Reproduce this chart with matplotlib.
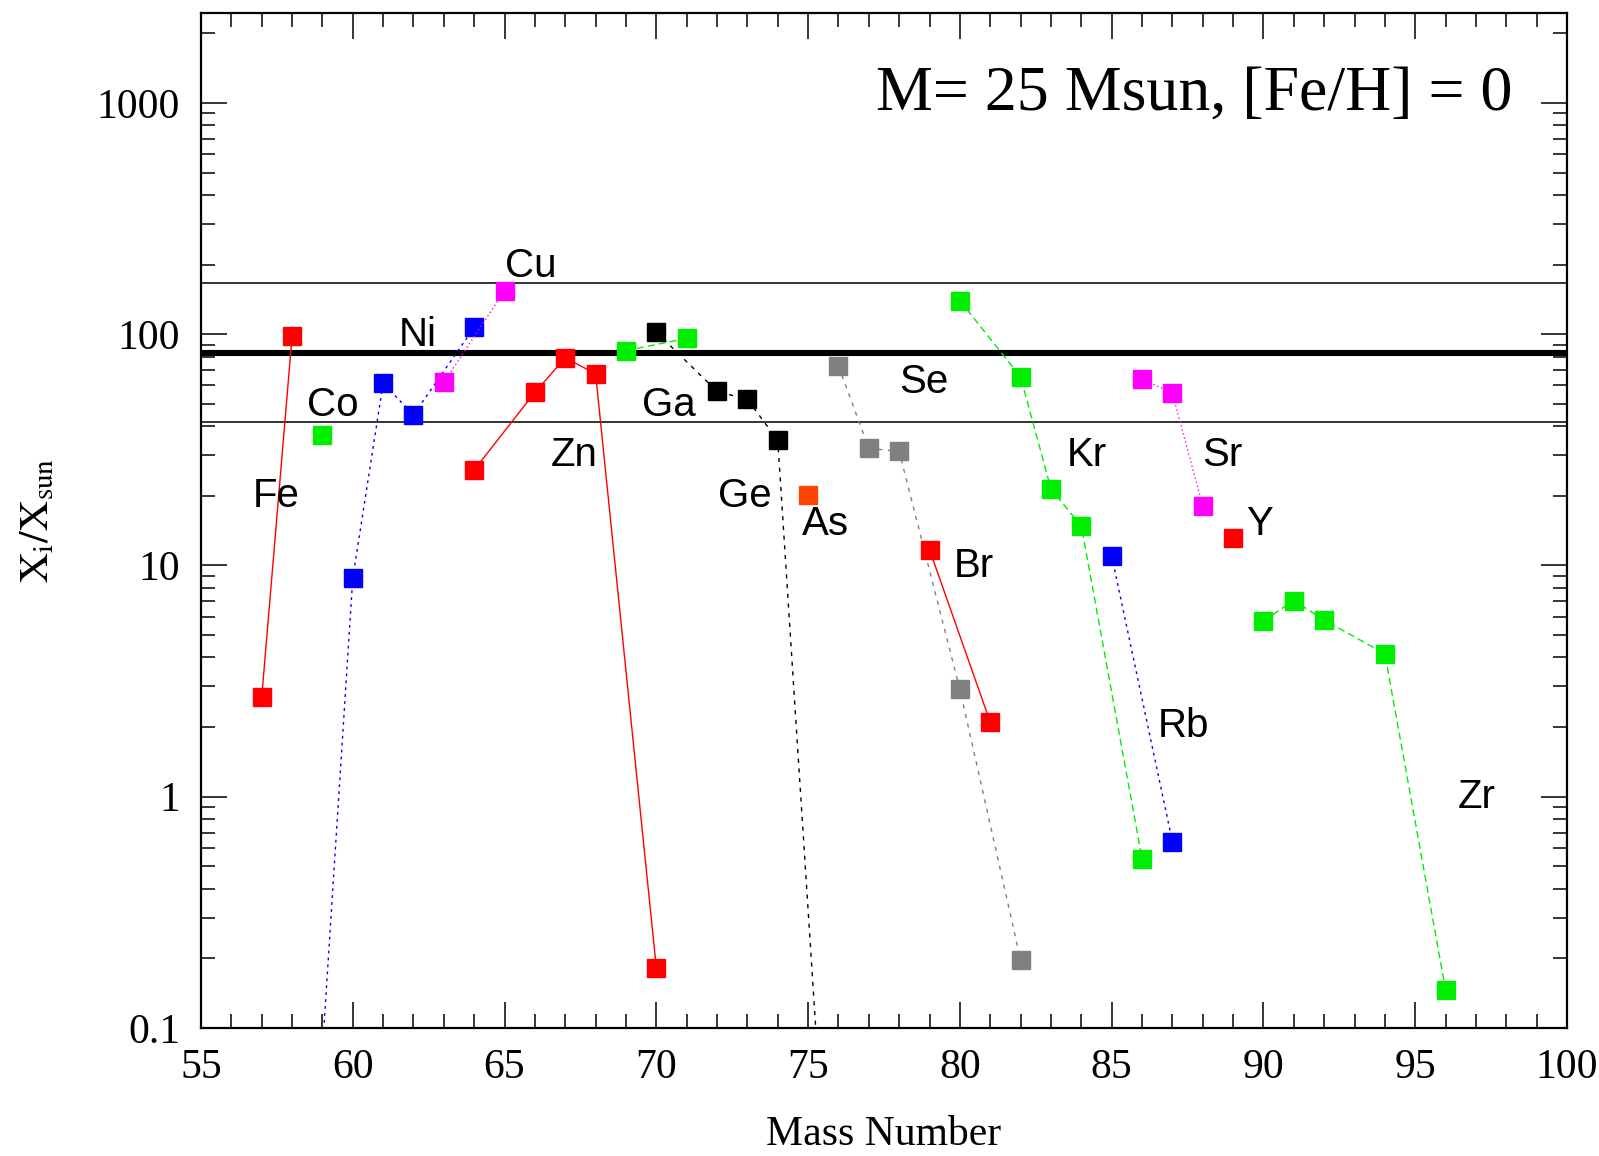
import matplotlib
matplotlib.use("Agg")
import matplotlib.pyplot as plt
from matplotlib.ticker import FixedLocator, LogLocator, NullFormatter, FixedFormatter

plt.rcParams["mathtext.fontset"] = "stix"

# isotope production factors X_i/X_sun per element
fe_a, fe_v = [57, 58], [2.69, 97.8]
co_a, co_v = [59], [36.5]
ni_a, ni_v = [59, 60, 61, 62, 64], [0.08, 8.81, 61.3, 44.8, 107]
cu_a, cu_v = [63, 65], [61.9, 154]
zn_a, zn_v = [64, 66, 67, 68, 70], [25.9, 56.0, 79.1, 67.3, 0.182]
ga_a, ga_v = [69, 71], [84.9, 95.9]
ge_a, ge_v = [70, 72, 73, 74, 76], [102, 56.6, 52.2, 34.8, 0.003]
as_a, as_v = [75], [20.2]
se_a, se_v = [76, 77, 78, 80, 82], [72.8, 32.1, 31.1, 2.91, 0.197]
br_a, br_v = [79, 81], [11.7, 2.10]
kr_a, kr_v = [80, 82, 83, 84, 86], [139.6, 65.3, 21.4, 14.8, 0.54]
rb_a, rb_v = [85, 87], [11.0, 0.64]
sr_a, sr_v = [86, 87, 88], [64.0, 55.5, 18.1]
y_a, y_v = [89], [13.2]
zr_a, zr_v = [90, 91, 92, 94, 96], [5.76, 7.05, 5.81, 4.15, 0.146]

# average production factor and factor-of-two band
f_avg = 83.3
f_band = [f_avg * 2, f_avg / 2]

series = [
    (fe_a, fe_v, "#ff0000", "-"),
    (co_a, co_v, "#00ee00", "none"),
    (ni_a, ni_v, "#0000ff", (0, (2, 3))),
    (cu_a, cu_v, "#ff00ff", (0, (1, 2))),
    (zn_a, zn_v, "#ff0000", "-"),
    (ga_a, ga_v, "#00ee00", (0, (5, 3))),
    (ge_a, ge_v, "#000000", (0, (3, 4))),
    (as_a, as_v, "#ff4500", "none"),
    (se_a, se_v, "#808080", (0, (3, 4))),
    (br_a, br_v, "#ff0000", "-"),
    (kr_a, kr_v, "#00ee00", (0, (5, 3))),
    (rb_a, rb_v, "#0000ff", (0, (2, 3))),
    (sr_a, sr_v, "#ff00ff", (0, (1, 2))),
    (y_a, y_v, "#ff0000", "none"),
    (zr_a, zr_v, "#00ee00", (0, (5, 3))),
]

labels = [("Fe", 57.48, 19.9), ("Co", 59.33, 49.5), ("Ni", 62.15, 99.6),
          ("Cu", 65.85, 197), ("Zn", 67.29, 30.1), ("Ga", 70.41, 49.5),
          ("Ge", 72.90, 20.0), ("As", 75.58, 15.1), ("Se", 78.81, 62),
          ("Br", 80.45, 9.96), ("Kr", 84.18, 30.1), ("Sr", 88.65, 30.1),
          ("Y", 89.86, 15.1), ("Rb", 87.37, 2.02), ("Zr", 97.01, 1.0)]

fig = plt.figure(figsize=(15.99, 11.56), dpi=100)
ax = fig.add_axes([0.1257, 0.1107, 0.8543, 0.8778])

ax.axhline(f_avg, color="black", lw=4.4, zorder=1)
for v in f_band:
    ax.axhline(v, color="#333333", lw=1.4, zorder=1)

for a, v, c, ls in series:
    ax.plot(a, v, color=c, ls=ls, lw=1.0, marker="s", ms=13, mec=c, mfc=c, zorder=3)

for name, x, y in labels:
    ax.text(x, y, name, fontsize=29, family="Liberation Sans", ha="center", va="center")

ax.text(0.727, 0.92, "M= 25 Msun, [Fe/H] = 0", transform=ax.transAxes,
        fontsize=46, family="Liberation Serif", ha="center", va="center")

ax.set_yscale("log")
ax.set_xlim(55, 100)
ax.set_ylim(0.1, 2440)
ax.xaxis.set_major_locator(FixedLocator(range(55, 101, 5)))
ax.xaxis.set_minor_locator(FixedLocator(range(55, 101, 1)))
ax.yaxis.set_major_locator(FixedLocator([0.1, 1, 10, 100, 1000]))
ax.yaxis.set_major_formatter(FixedFormatter(["0.1", "1", "10", "100", "1000"]))
ax.yaxis.set_minor_locator(LogLocator(base=10, subs=range(2, 10)))
ax.yaxis.set_minor_formatter(NullFormatter())

ax.tick_params(which="both", direction="in", top=True, right=True, width=1.1)
ax.tick_params(which="major", length=19, labelsize=30, pad=15)
ax.tick_params(which="minor", length=10)
for lab in ax.get_xticklabels() + ax.get_yticklabels():
    lab.set_family("Liberation Serif")
for s in ax.spines.values():
    s.set_linewidth(1.6)

ax.set_xlabel("Mass Number", fontsize=30, family="Liberation Serif", labelpad=20)
ax.set_ylabel(r"$\mathrm{X_i/X_{sun}}$", fontsize=30)
ax.yaxis.set_label_coords(-0.105, 0.5)

fig.savefig("out.png", dpi=100)
